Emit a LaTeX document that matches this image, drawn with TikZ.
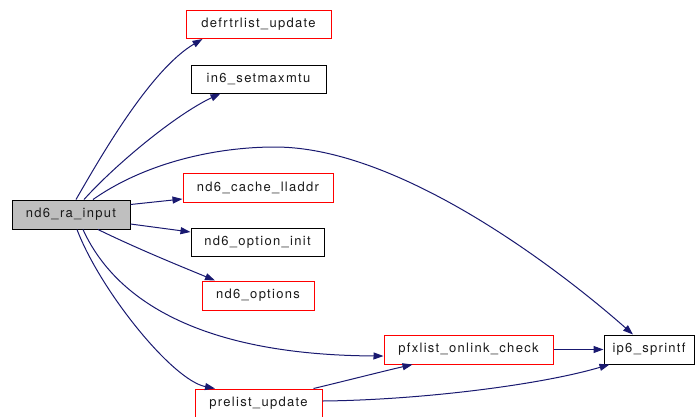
\documentclass[tikz,border=0pt]{standalone}
\usepackage{fontspec}
\setmainfont{TeX Gyre Heros}[LetterSpace=10]
\usetikzlibrary{arrows.meta,calc}
\definecolor{edgeblue}{RGB}{25,25,112}
\definecolor{rootgrey}{RGB}{191,191,191}
\tikzset{
  fn/.style={draw=black,line width=1pt,rectangle,inner sep=0pt,
    font=\fontsize{13}{15}\selectfont,text=black!90},
  linked/.style={fn,draw=red},
  root/.style={fn,fill=rootgrey},
  call/.style={draw=edgeblue,line width=1pt,
    -{Triangle[length=10pt,width=7pt,fill=edgeblue]}},
}
\begin{document}
\begin{tikzpicture}[x=1pt,y=-1pt]
\useasboundingbox (0,0) rectangle (695,416);

% functions
\node[root,minimum width=118pt,minimum height=29pt] (ra) at (71,214.5) {nd6\_ra\_input};
\node[linked,minimum width=145pt,minimum height=28pt] (defrt) at (258.5,24.5) {defrtrlist\_update};
\node[fn,minimum width=135pt,minimum height=28pt] (in6) at (258.5,79) {in6\_setmaxmtu};
\node[linked,minimum width=150pt,minimum height=29pt] (cache) at (258,187.5) {nd6\_cache\_lladdr};
\node[fn,minimum width=133pt,minimum height=28pt] (init) at (257.5,242) {nd6\_option\_init};
\node[linked,minimum width=112pt,minimum height=29pt] (opts) at (258,295.5) {nd6\_options};
\node[linked,minimum width=169pt,minimum height=29pt] (pfx) at (468.5,349.5) {pfxlist\_onlink\_check};
\node[fn,minimum width=90pt,minimum height=29pt] (ip6) at (649,349.5) {ip6\_sprintf};
\node[linked,minimum width=127pt,minimum height=29pt] (pre) at (258.5,403.5) {prelist\_update};

% calls
\draw[call] ($(ra.north)+(5,0)$) .. controls (100,158) and (150,70) .. ($(defrt.south west)+(17,0)$);
\draw[call] ($(ra.north)+(13,0)$) .. controls (115,165) and (175,115) .. ($(in6.south)+(-38,0)$);
\draw[call] ($(ra.north)+(22,0)$) .. controls (145,163) and (215,147) .. (275,147)
  .. controls (400,147) and (560,270) .. ($(ip6.north)+(-16,0)$);
\draw[call] ($(ra.east)+(0,-10)$) -- ($(cache.west)+(0,11.5)$);
\draw[call] ($(ra.east)+(0,9.5)$) -- ($(init.west)+(0,-10)$);
\draw[call] ($(ra.south)+(27,0)$) .. controls (140,250) and (185,268) .. ($(opts.north)+(-43,0)$);
\draw[call] ($(ra.south)+(12,0)$) .. controls (115,300) and (200,355) .. ($(pfx.west)+(0,6.5)$);
\draw[call] ($(ra.south)+(6,0)$) .. controls (100,290) and (172,380) .. ($(pre.north)+(-43.5,0)$);
\draw[call] (pfx.east) -- (ip6.west);
\draw[call] ($(pre.north east)+(-9,0)$) .. controls (345,381) and (380,372) .. ($(pfx.south west)+(29,0)$);
\draw[call] ($(pre.east)+(0,-2.5)$) .. controls (420,400) and (540,385) .. ($(ip6.south west)+(6,0)$);
\end{tikzpicture}
\end{document}
